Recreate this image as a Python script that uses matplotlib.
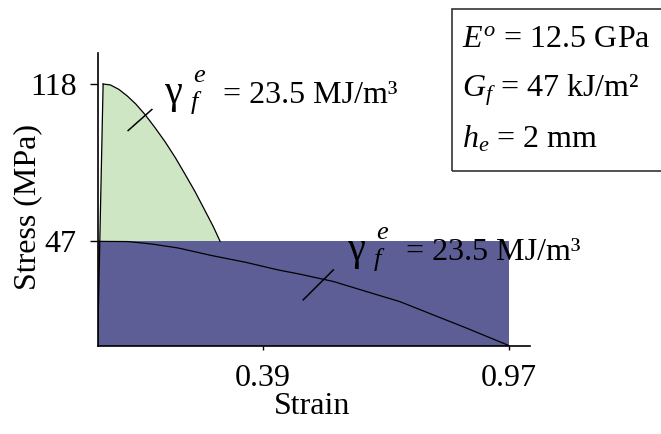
import matplotlib
matplotlib.use("Agg")
import matplotlib.pyplot as plt
from matplotlib.patches import Rectangle
from matplotlib.transforms import offset_copy

plt.rcParams['font.family'] = ['Liberation Serif', 'DejaVu Serif']
plt.rcParams['mathtext.fontset'] = 'custom'
plt.rcParams['mathtext.rm'] = 'Liberation Serif'
plt.rcParams['mathtext.it'] = 'Liberation Serif:italic'

# ---- data ----
x_ticks = [0.39, 0.97]
y_ticks = [47, 118]
residual_stress = 47
max_strain = 0.97

elastic_x = [0.0, 0.013]
elastic_y = [0.0, 118]

green_x = [0.013, 0.030, 0.050, 0.070, 0.090, 0.112, 0.135, 0.159, 0.183, 0.206, 0.230, 0.253, 0.273, 0.289]
green_y = [118.0, 117.6, 115.6, 112.6, 109.0, 104.2, 98.4, 92.0, 84.9, 77.4, 69.4, 61.0, 53.6, 47.0]

soft_x = [0.0, 0.072, 0.128, 0.190, 0.269, 0.348, 0.426, 0.477, 0.556, 0.635, 0.713, 0.792, 0.871, 0.97]
soft_y = [47.0, 46.9, 45.8, 44.0, 40.6, 37.6, 34.1, 32.2, 28.9, 24.3, 19.8, 13.8, 7.8, 0.0]

slash1_x = [0.072, 0.128]
slash1_y = [97.0, 106.5]
slash2_x = [0.485, 0.556]
slash2_y = [20.6, 34.1]

energy_text = "= 23.5 MJ/m³"
energy_pos = [(0.159, 109.5), (0.59, 38.4)]
box_lines = ["$E^{o}$ = 12.5 GPa", "$G_f$ = 47 kJ/m²", "$h_e$ = 2 mm"]

W, H = 661, 434
fig = plt.figure(figsize=(W / 100, H / 100), dpi=100)
ax = fig.add_axes([97.6 / W, (H - 345.5) / H, (530 - 97.6) / W, (345.5 - 53) / H])
ax.set_xlim(0, 1.02)
ax.set_ylim(0, 132)

green_poly_x = [0.0] + green_x + [0.0]
green_poly_y = [0.0] + green_y + [0.0]
ax.fill(green_poly_x, green_poly_y, color='#CFE6C5', lw=0, zorder=1)
ax.fill_between([0, max_strain], 0, residual_stress, color='#5D5E96', lw=0, zorder=2)

lkw = dict(color='black', lw=0.9, zorder=3, solid_joinstyle='round')
ax.plot(elastic_x, elastic_y, **lkw)
ax.plot(green_x, green_y, **lkw)
ax.plot(soft_x, soft_y, **lkw)
ax.plot(slash1_x, slash1_y, color='black', lw=1.1, zorder=3)
ax.plot(slash2_x, slash2_y, color='black', lw=1.1, zorder=3)

fs = 23
for (px, py) in energy_pos:
    ax.text(px, py, "γ", fontsize=29, va='baseline', ha='left', zorder=4)
    ax.text(px, py, "e", fontsize=19, style='italic', va='baseline', ha='left', zorder=4,
            transform=offset_copy(ax.transData, fig=fig, x=28, y=21, units='dots'))
    ax.text(px, py, "f", fontsize=19, style='italic', va='baseline', ha='left', zorder=4,
            transform=offset_copy(ax.transData, fig=fig, x=26, y=-6, units='dots'))
    ax.text(px, py, energy_text, fontsize=fs, va='baseline', ha='left', zorder=4,
            transform=offset_copy(ax.transData, fig=fig, x=58, y=0, units='dots'))

for s in ['top', 'right']:
    ax.spines[s].set_visible(False)
for s in ['left', 'bottom']:
    ax.spines[s].set_linewidth(1.2)

ax.set_xticks(x_ticks)
ax.set_xticklabels([f"{v:.2f}" for v in x_ticks])
ax.set_yticks(y_ticks)
ax.set_yticklabels([str(v) for v in y_ticks])
ax.tick_params(axis='y', length=6, width=1.0, pad=9, labelsize=fs)
ax.tick_params(axis='x', length=3, width=1.0, pad=10, labelsize=fs)

ax.set_xlabel("Strain", fontsize=fs)
ax.xaxis.set_label_coords(0.497, -0.16)
ax.xaxis.label.set_va('top')
ax.set_ylabel("Stress (MPa)", fontsize=fs)
ax.yaxis.label.set_va('center')
ax.yaxis.set_label_coords(-0.161, 0.474)

# parameter box
fig.patches.append(Rectangle((452 / W, (H - 171) / H), (670 - 452) / W, (171 - 9) / H,
                             transform=fig.transFigure, fill=False, ec='#333333', lw=1.2))
for line, yb in zip(box_lines, [47, 97, 147]):
    fig.text(462 / W, (H - yb) / H, line, fontsize=fs, va='baseline', ha='left')

fig.savefig("out.png", dpi=100)
